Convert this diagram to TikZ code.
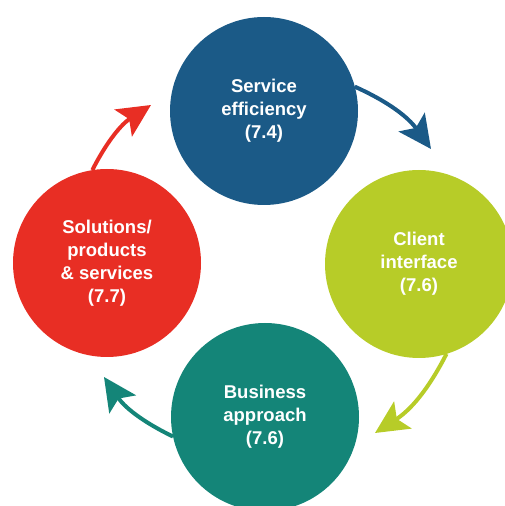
\documentclass[tikz,border=0pt]{standalone}
\usepackage{fontspec}
\setmainfont{Liberation Sans}
\usetikzlibrary{arrows.meta}
\definecolor{cblue}{HTML}{1B5A87}
\definecolor{cgreen}{HTML}{B7CC28}
\definecolor{cteal}{HTML}{148578}
\definecolor{cred}{HTML}{E82E24}
\tikzset{
  disc/.style={circle, minimum size=188pt, inner sep=0pt, outer sep=0pt,
    text=white, align=center, font=\fontsize{18.5}{23}\selectfont\bfseries},
  arr/.style={line width=4pt, -{Stealth[length=33pt,width=32pt,inset=7pt]}}
}
\begin{document}
\begin{tikzpicture}[x=1pt,y=1pt]
\useasboundingbox (0,0) rectangle (505,506);
\clip (0,0) rectangle (505,506);
\node[disc, fill=cblue]  (blue)  at (264,395) {Service\\efficiency\\(7.4)};
\node[disc, fill=cgreen] (green) at (419,242) {Client\\interface\\(7.6)};
\node[disc, fill=cteal]  (teal)  at (265,89)  {Business\\approach\\(7.6)};
\node[disc, fill=cred]   (red)   at (107,243) {Solutions/\\products\\\& services\\(7.7)};
\coordinate (bt) at (431,357);
\coordinate (gt) at (375,73);
\coordinate (tt) at (104,129);
\coordinate (rt) at (151,401);
\draw[arr, draw=cblue]  (blue.15)   to[bend left=15] (bt);
\draw[arr, draw=cgreen] (green.-73) to[bend left=15] (gt);
\draw[arr, draw=cteal]  (teal.192)  to[bend left=15] (tt);
\draw[arr, draw=cred]   (red.99)    to[bend left=15] (rt);
\end{tikzpicture}
\end{document}
